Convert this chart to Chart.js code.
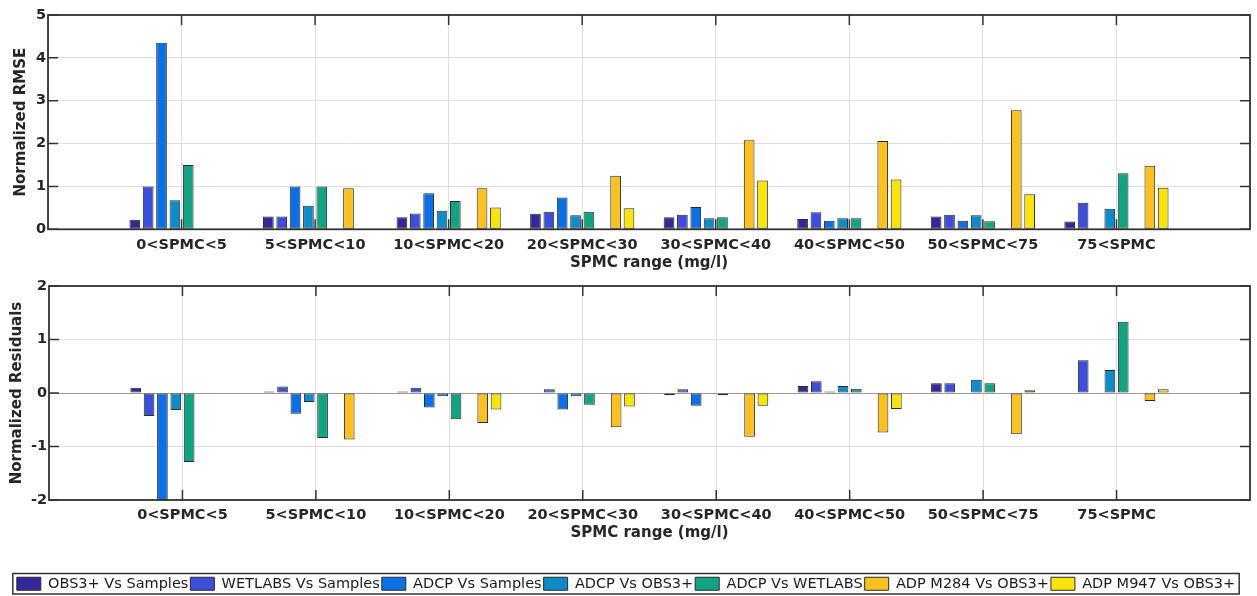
<!DOCTYPE html>
<html>
<head>
<meta charset="utf-8">
<title>SPMC error by range</title>
<script src="https://cdn.jsdelivr.net/npm/chart.js@4.4.0/dist/chart.umd.min.js"></script>
<style>
  html, body { margin: 0; padding: 0; background: #fff; overflow: hidden; }
  #wrap { position: relative; width: 1257px; height: 596px; }
  #rmseBox { position: absolute; left: 0; top: 0; width: 1257px; height: 275px; }
  #residBox { position: absolute; left: 0; top: 275px; width: 1257px; height: 326px; }
</style>
</head>
<body>
<div id="wrap">
  <div id="rmseBox"><canvas id="rmseChart"></canvas></div>
  <div id="residBox"><canvas id="residChart"></canvas></div>
</div>
<script>
const categories = ['0<SPMC<5', '5<SPMC<10', '10<SPMC<20', '20<SPMC<30', '30<SPMC<40', '40<SPMC<50', '50<SPMC<75', '75<SPMC'];
const seriesNames = ['OBS3+ Vs Samples', 'WETLABS Vs Samples', 'ADCP Vs Samples', 'ADCP Vs OBS3+', 'ADCP Vs WETLABS', 'ADP M284 Vs OBS3+', 'ADP M947 Vs OBS3+'];
const seriesColors = ['#33289a', '#3d4ed8', '#0d6fe4', '#0f8bc9', '#13a383', '#fbc022', '#f8e30b'];

// normalized RMSE per comparison
const rmseObs = [0.22, 0.30, 0.28, 0.36, 0.28, 0.24, 0.30, 0.18];
const rmseWetlabs = [1.00, 0.30, 0.37, 0.41, 0.34, 0.40, 0.34, 0.62];
const rmseAdcp = [4.35, 1.00, 0.84, 0.74, 0.52, 0.20, 0.20, null];
const rmseAdcpObs = [0.68, 0.55, 0.43, 0.33, 0.26, 0.26, 0.33, 0.48];
const rmseAdcpWet = [1.50, 1.00, 0.66, 0.41, 0.28, 0.26, 0.19, 1.31];
const rmseM284 = [null, 0.96, 0.96, 1.25, 2.08, 2.06, 2.78, 1.48];
const rmseM947 = [null, null, 0.51, 0.49, 1.14, 1.16, 0.82, 0.97];

// normalized residuals per comparison
const resObs = [0.10, 0.03, 0.03, 0.01, -0.04, 0.13, 0.18, 0.01];
const resWetlabs = [-0.43, 0.12, 0.10, 0.07, 0.07, 0.22, 0.18, 0.61];
const resAdcp = [-2.00, -0.39, -0.27, -0.31, -0.24, 0.03, 0.01, null];
const resAdcpObs = [-0.32, -0.17, -0.06, -0.06, 0.00, 0.13, 0.25, 0.43];
const resAdcpWet = [-1.29, -0.84, -0.49, -0.22, -0.04, 0.08, 0.18, 1.33];
const resM284 = [null, -0.87, -0.56, -0.64, -0.82, -0.74, -0.77, -0.15];
const resM947 = [null, null, -0.31, -0.25, -0.24, -0.30, 0.05, 0.07];

const rmseTicks = { min: 0, max: 5, step: 1 };
const residTicks = { min: -2, max: 2, step: 1 };

const ink = '#262626';
const boldFont = { family: 'DejaVu Sans', weight: 'bold', size: 14.5 };
const titleFont = { family: 'DejaVu Sans', weight: 'bold', size: 15 };

// x axis runs 0..9 with the ranges sitting on 1..8
const labels = ['', ...categories, ''];
const pad = arr => [null, ...arr, null];

function buildDatasets(series) {
  const sets = series.map((vals, i) => ({
    label: seriesNames[i],
    data: pad(vals),
    backgroundColor: seriesColors[i],
    borderColor: '#2b2b2b',
    borderWidth: 1,
    borderSkipped: false
  }));
  // empty slot between the ADCP group and the ADP group
  sets.splice(5, 0, { label: '', data: pad(categories.map(() => null)), backgroundColor: 'rgba(0,0,0,0)', borderWidth: 0 });
  return sets;
}

const frame = {
  id: 'frame',
  afterDatasetsDraw(chart) {
    const { ctx, chartArea: a, scales: { x, y } } = chart;
    ctx.save();
    ctx.strokeStyle = '#333';
    ctx.lineWidth = 1.5;
    ctx.beginPath();
    categories.forEach((c, i) => {
      const px = x.getPixelForValue(i + 1);
      ctx.moveTo(px, a.top); ctx.lineTo(px, a.top + 10);
      ctx.moveTo(px, a.bottom); ctx.lineTo(px, a.bottom - 10);
    });
    y.ticks.forEach(t => {
      const py = y.getPixelForValue(t.value);
      ctx.moveTo(a.left, py); ctx.lineTo(a.left + 10, py);
      ctx.moveTo(a.right, py); ctx.lineTo(a.right - 10, py);
    });
    ctx.stroke();
    ctx.lineWidth = 1.8;
    ctx.strokeRect(a.left, a.top, a.right - a.left, a.bottom - a.top);
    ctx.restore();
  }
};

// outline around the legend entries
const legendFrame = {
  id: 'legendFrame',
  afterDraw(chart) {
    const boxes = chart.legend && chart.legend.legendHitBoxes;
    if (!boxes || !boxes.length) return;
    const left = Math.min(...boxes.map(b => b.left)) - 4;
    const right = Math.max(...boxes.map(b => b.left + b.width)) + 4;
    const top = Math.min(...boxes.map(b => b.top)) - 3;
    const bottom = Math.max(...boxes.map(b => b.top + b.height)) + 3;
    const ctx = chart.ctx;
    ctx.save();
    ctx.strokeStyle = '#333';
    ctx.lineWidth = 1.5;
    ctx.strokeRect(left, top, right - left, bottom - top);
    ctx.restore();
  }
};

function makeChart(id, series, range, yTitle, opts) {
  return new Chart(document.getElementById(id), {
    type: 'bar',
    data: { labels, datasets: buildDatasets(series) },
    options: {
      responsive: true,
      maintainAspectRatio: false,
      animation: false,
      layout: { padding: { top: opts.padTop, right: 5, left: 0, bottom: 0 } },
      datasets: { bar: { categoryPercentage: 0.8, barPercentage: 0.8 } },
      plugins: {
        tooltip: { enabled: false },
        legend: opts.legend ? {
          display: true,
          position: 'bottom',
          labels: {
            boxWidth: 24,
            boxHeight: 13,
            padding: 2,
            color: '#1a1a1a',
            font: { family: 'DejaVu Sans', size: 14.5 },
            filter: item => item.text !== ''
          }
        } : { display: false }
      },
      scales: {
        x: {
          type: 'category',
          offset: false,
          afterFit: axis => { axis.height = opts.xHeight; },
          grid: { color: '#dedede', drawTicks: false, offset: false },
          border: { display: false },
          ticks: { autoSkip: false, maxRotation: 0, padding: 7, color: ink, font: boldFont },
          title: { display: true, text: 'SPMC range (mg/l)', color: ink, font: titleFont, padding: { top: 0, bottom: opts.xTitlePad } }
        },
        y: {
          min: range.min,
          max: range.max,
          afterFit: axis => { axis.width = opts.yWidth; },
          grid: {
            color: ctx => (ctx.tick && ctx.tick.value === 0 && range.min < 0) ? '#9a9a9a' : '#dedede',
            drawTicks: false
          },
          border: { display: false },
          ticks: { stepSize: range.step, padding: 2, color: ink, font: boldFont },
          title: { display: true, text: yTitle, color: ink, font: titleFont, padding: { top: opts.yTitlePad, bottom: 0 } }
        }
      }
    },
    plugins: [frame, legendFrame]
  });
}

makeChart('rmseChart',
  [rmseObs, rmseWetlabs, rmseAdcp, rmseAdcpObs, rmseAdcpWet, rmseM284, rmseM947],
  rmseTicks, 'Normalized RMSE',
  { padTop: 15, xHeight: 45.7, xTitlePad: 3, yWidth: 48, yTitlePad: 12, legend: false });

makeChart('residChart',
  [resObs, resWetlabs, resAdcp, resAdcpObs, resAdcpWet, resM284, resM947],
  residTicks, 'Normalized Residuals',
  { padTop: 11, xHeight: 74.5, xTitlePad: 32.5, yWidth: 49, yTitlePad: 8, legend: true });
</script>
</body>
</html>
